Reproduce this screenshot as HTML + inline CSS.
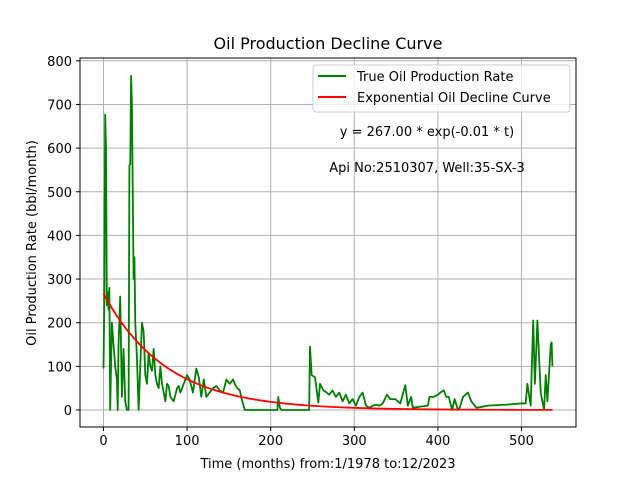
<!DOCTYPE html>
<html><head><meta charset="utf-8"><style>
body{margin:0;background:#fff;font-family:"Liberation Sans","DejaVu Sans",sans-serif}
svg text{font-family:"DejaVu Sans","Liberation Sans",sans-serif}
</style></head><body>
<svg id="chart" width="640" height="480">
<rect width="640" height="480" fill="#fff"/>
<text x="328" y="49" font-size="16" text-anchor="middle">Oil Production Decline Curve</text>
<g id="grid"></g><g id="ticks"></g>
<g id="series"></g>
<rect x="80" y="58" width="496" height="369" fill="none" stroke="#000" stroke-width="1"/>
<text x="328" y="468" font-size="13" text-anchor="middle">Time (months) from:1/1978 to:12/2023</text>
<text transform="translate(36,243) rotate(-90)" font-size="13" text-anchor="middle">Oil Production Rate (bbl/month)</text>
<g>
<rect x="313" y="65" width="257" height="47" rx="3" fill="#fff" fill-opacity="0.8" stroke="#ccc"/>
<line x1="318" y1="76" x2="346" y2="76" stroke="green" stroke-width="2"/>
<text x="357" y="81" font-size="13">True Oil Production Rate</text>
<line x1="318" y1="97" x2="346" y2="97" stroke="red" stroke-width="2"/>
<text x="357" y="102" font-size="13">Exponential Oil Decline Curve</text>
</g>
<text x="427" y="136" font-size="13" text-anchor="middle">y = 267.00 * exp(-0.01 * t)</text>
<text x="427" y="172" font-size="13" text-anchor="middle">Api No:2510307, Well:35-SX-3</text>
</svg>
<script>
const months=[0,1,2,3,4,5,6,7,8,10,12,14,16,17,18,20,22,24,26,28,30,31,32,33,34,35,36,37,38,40,42,44,46,48,50,52,54,56,58,60,62,64,66,68,70,72,74,76,78,80,84,88,90,92,94,96,98,100,103,107,111,114,117,120,123,127,131,135,139,143,147,151,155,157,160,163,166,169,180,200,208,209,211,213,230,246,247,249,253,257,259,263,267,270,274,278,282,286,290,294,298,302,306,310,314,318,322,326,330,334,339,343,349,355,361,364,368,370,380,388,390,395,400,403,407,410,413,417,420,424,426,430,433,436,440,446,460,480,500,505,507,511,514,516,519,523,527,529,531,535,536,537];
const rates=[95,250,677,600,240,270,230,280,0,200,150,100,70,0,150,260,30,140,20,0,0,560,563,765,700,500,300,350,200,120,0,100,200,180,80,60,130,100,90,140,80,60,50,100,60,40,20,60,55,30,20,50,55,40,50,60,70,80,70,40,95,75,30,70,30,40,50,55,45,40,70,60,70,60,50,45,20,0,0,0,0,30,5,0,0,0,145,80,75,17,60,45,40,35,45,30,40,20,35,15,25,10,30,40,10,5,10,12,10,15,35,25,25,15,57,10,30,5,8,10,30,30,35,40,45,30,30,0,25,0,5,30,35,40,20,5,10,12,15,15,60,10,205,60,205,40,0,80,20,150,155,100];
const fitA=267, fitK=0.0133, fitEnd=537;
const xTicks=[0,100,200,300,400,500];
const yTicks=[0,100,200,300,400,500,600,700,800];
const X=t=>103.5+t*0.836, Y=v=>410-v*0.4365;
const NS="http://www.w3.org/2000/svg";
function mk(tag,attrs,parent){const e=document.createElementNS(NS,tag);for(const k in attrs)e.setAttribute(k,attrs[k]);parent.appendChild(e);return e;}
const grid=document.getElementById('grid'),ticks=document.getElementById('ticks'),series=document.getElementById('series');
xTicks.forEach(t=>{
 const g=mk('line',{x1:X(t),x2:X(t),y1:58,y2:427,stroke:'#b0b0b0','stroke-width':1},grid);
 
 
 mk('line',{x1:X(t),x2:X(t),y1:427,y2:431,stroke:'#000'},ticks);
 const tx=mk('text',{x:X(t),y:445,'font-size':13,'text-anchor':'middle'},ticks);tx.textContent=t;
 
 
});
yTicks.forEach(v=>{
 const g=mk('line',{x1:80,x2:576,y1:Y(v),y2:Y(v),stroke:'#b0b0b0','stroke-width':1},grid);
 
 
 mk('line',{x1:76,x2:80,y1:Y(v),y2:Y(v),stroke:'#000'},ticks);
 const tx=mk('text',{x:72,y:Y(v)+5,'font-size':13,'text-anchor':'end'},ticks);tx.textContent=v;
 
 
});
const p1=mk('polyline',{points:months.map((m,i)=>X(m)+','+Y(rates[i])).join(' '),fill:'none',stroke:'green','stroke-width':1.8,'stroke-linejoin':'round'},series);


const fp=[];for(let t=0;t<=fitEnd;t+=3)fp.push(X(t)+','+Y(fitA*Math.exp(-fitK*t)));
const p2=mk('polyline',{points:fp.join(' '),fill:'none',stroke:'red','stroke-width':1.8},series);


</script>
</body></html>
